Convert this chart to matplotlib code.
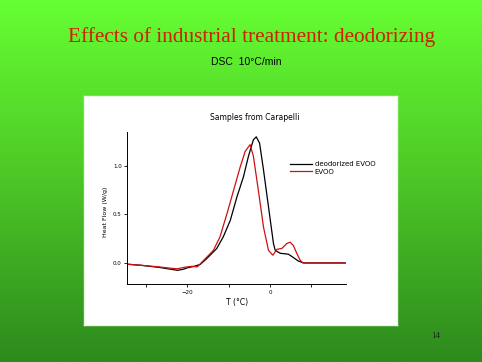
import numpy as np
import matplotlib.pyplot as plt
from matplotlib.colors import LinearSegmentedColormap

# DSC curves (T in degC, heat flow in W/g)
t_deo = [-34.3, -31.3, -27.0, -24.0, -22.4, -21.0, -20.0, -18.4, -16.9, -15.2,
         -12.9, -11.3, -9.6, -8.0, -6.4, -5.2, -4.0, -3.3, -2.5, -1.55, -0.34,
         0.87, 1.3, 2.5, 4.5, 5.7, 6.9, 8.2, 18.3]
hf_deo = [-0.014, -0.024, -0.045, -0.065, -0.076, -0.065, -0.05, -0.035, -0.015, 0.05,
          0.149, 0.27, 0.44, 0.68, 0.89, 1.10, 1.27, 1.30, 1.235, 0.96, 0.58,
          0.20, 0.13, 0.10, 0.09, 0.056, 0.02, 0.0, 0.0]

t_evoo = [-34.3, -31.3, -27.0, -24.0, -22.4, -20.8, -19.0, -17.6, -16.0, -13.7,
          -12.1, -10.4, -8.8, -7.2, -6.0, -4.8, -4.0, -2.8, -1.55, -0.34, 0.73,
          1.7, 2.9, 4.1, 4.9, 5.7, 6.55, 7.35, 8.0, 18.3]
hf_evoo = [-0.014, -0.024, -0.04, -0.055, -0.06, -0.045, -0.035, -0.04, 0.03, 0.13,
           0.27, 0.51, 0.75, 0.99, 1.15, 1.22, 1.10, 0.75, 0.37, 0.13, 0.08,
           0.14, 0.15, 0.20, 0.214, 0.18, 0.097, 0.028, 0.0, 0.0]

xticks = [-20, 0]
yticks = [0.0, 0.5, 1.0]

fig = plt.figure(figsize=(4.82, 3.62), dpi=100)

# green slide background
bg = fig.add_axes([0, 0, 1, 1])
cmap = LinearSegmentedColormap.from_list(
    "slide", [(0.0, "#66ff33"), (0.45, "#4fcc27"), (1.0, "#2d8a1d")])
grad = np.linspace(0, 1, 256).reshape(-1, 1)
bg.imshow(grad, aspect="auto", cmap=cmap, extent=[0, 1, 0, 1], origin="upper")
bg.set_xlim(0, 1)
bg.set_ylim(0, 1)
bg.axis("off")

W, H = 482.0, 362.0

# white panel behind the chart
panel = fig.add_axes([84 / W, 1 - 325 / H, (397 - 84) / W, (325 - 96) / H])
panel.set_facecolor("white")
panel.set_xticks([])
panel.set_yticks([])
for s in panel.spines.values():
    s.set_color("#eaf7e0")
    s.set_linewidth(1.0)

ax = fig.add_axes([127.3 / W, 1 - 284.3 / H, (345.7 - 127.3) / W, (284.3 - 132) / H])
ax.set_facecolor("none")
ax.plot(t_deo, hf_deo, color="black", lw=0.9, label="deodorized EVOO")
ax.plot(t_evoo, hf_evoo, color="#cc1111", lw=0.9, label="EVOO")
ax.set_xlim(-34.6, 18.4)
ax.set_ylim(-0.22, 1.35)
ax.set_xticks(xticks)
ax.set_xticks([-30, -10, 10], minor=True)
ax.set_yticks(yticks)
ax.set_yticklabels(["0.0", "0.5", "1.0"])
ax.tick_params(labelsize=4, length=2, width=0.6, pad=2)
ax.tick_params(which="minor", length=2, width=0.6)
ax.spines["top"].set_visible(False)
ax.spines["right"].set_visible(False)
for s in ("left", "bottom"):
    ax.spines[s].set_linewidth(0.7)

ax.legend(loc="upper left", bbox_to_anchor=(0.73, 0.83), frameon=False,
          fontsize=5, handlelength=3.2, handletextpad=0.3, labelspacing=0.2,
          borderpad=0)

fig.text(254.7 / W, 1 - 117 / H, "Samples from Carapelli", ha="center",
         va="center", fontsize=5.5)
fig.text(237 / W, 1 - 303 / H, "T (°C)", ha="center", va="center", fontsize=5.5)
fig.text(105.7 / W, 1 - 212 / H, "Heat Flow (W/g)", ha="center", va="center",
         fontsize=4.5, rotation=90)

# slide titles
fig.text(251.7 / W, 1 - 37 / H, "Effects of industrial treatment: deodorizing",
         ha="center", va="center", fontsize=15.3, family="Liberation Serif",
         color="#cc2200")
fig.text(246.7 / W, 1 - 62 / H, "DSC  10°C/min", ha="center", va="center",
         fontsize=7.5, family="Liberation Sans")
fig.text(435.7 / W, 1 - 336 / H, "14", ha="center", va="center",
         fontsize=6.5, family="Liberation Serif", color="#222222")

fig.savefig("out.png", dpi=100)
